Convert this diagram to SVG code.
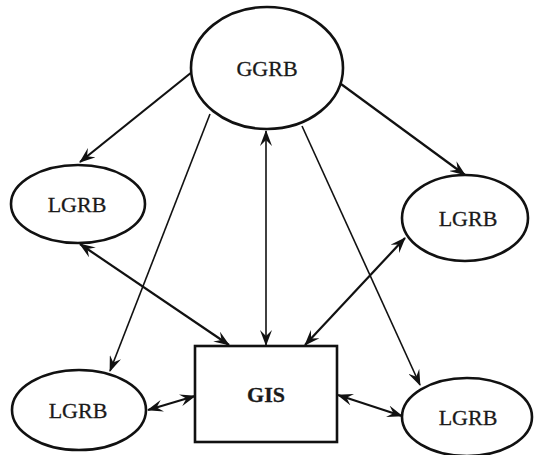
<svg xmlns="http://www.w3.org/2000/svg" width="535" height="455" viewBox="0 0 535 455">
  <style>
    .node { fill: #fff; stroke: #111; stroke-width: 2.6; }
    .label { font-family: "Liberation Serif", "Times New Roman", serif; font-size: 22px; fill: #1a1a1a; text-anchor: middle; stroke: #1a1a1a; stroke-width: 0.3; }
    .bold { font-weight: bold; }
    .edge { fill: none; stroke: #111; stroke-width: 2.2; }
    .thin { stroke-width: 1.6; }
  </style>
  <defs>
    <marker id="arrow" viewBox="0 0 16 12" refX="15" refY="6" markerWidth="16" markerHeight="12" markerUnits="userSpaceOnUse" orient="auto-start-reverse">
      <path d="M0,0 L16,6 L0,12 L6,6 z" fill="#111"/>
    </marker>
  </defs>

  <rect width="535" height="455" fill="#fff"/>

  <!-- connectors -->
  <g id="connectors">
    <line class="edge" x1="192" y1="72" x2="80" y2="162" marker-end="url(#arrow)"/>
    <line class="edge" x1="341" y1="84" x2="465" y2="175" marker-end="url(#arrow)"/>
    <line class="edge thin" x1="210" y1="114" x2="110" y2="371" marker-end="url(#arrow)"/>
    <line class="edge thin" x1="302" y1="126" x2="420" y2="385" marker-end="url(#arrow)"/>
    <line class="edge thin" x1="266" y1="131" x2="266" y2="345" marker-start="url(#arrow)" marker-end="url(#arrow)"/>
    <line class="edge" x1="80" y1="244" x2="229" y2="345" marker-start="url(#arrow)" marker-end="url(#arrow)"/>
    <line class="edge" x1="405" y1="238" x2="305" y2="345" marker-start="url(#arrow)" marker-end="url(#arrow)"/>
    <line class="edge" x1="148" y1="410" x2="195" y2="396" marker-start="url(#arrow)" marker-end="url(#arrow)"/>
    <line class="edge" x1="338" y1="395" x2="402" y2="416" marker-start="url(#arrow)" marker-end="url(#arrow)"/>
  </g>

  <g id="ggrb">
    <ellipse class="node" cx="267" cy="68" rx="76" ry="61"/>
    <text class="label" x="267" y="76">GGRB</text>
  </g>

  <g id="lgrb-left">
    <ellipse class="node" cx="78" cy="204" rx="67" ry="39"/>
    <text class="label" x="77" y="212">LGRB</text>
  </g>

  <g id="lgrb-right">
    <ellipse class="node" cx="465" cy="218" rx="63" ry="43"/>
    <text class="label" x="468" y="226">LGRB</text>
  </g>

  <g id="lgrb-bottom-left">
    <ellipse class="node" cx="79" cy="410" rx="67" ry="40"/>
    <text class="label" x="78" y="418">LGRB</text>
  </g>

  <g id="gis">
    <rect class="node" x="195" y="346" width="142" height="96"/>
    <text class="label bold" x="266" y="402">GIS</text>
  </g>

  <g id="lgrb-bottom-right">
    <ellipse class="node" cx="467" cy="417" rx="65" ry="39"/>
    <text class="label" x="468" y="425">LGRB</text>
  </g>
</svg>
